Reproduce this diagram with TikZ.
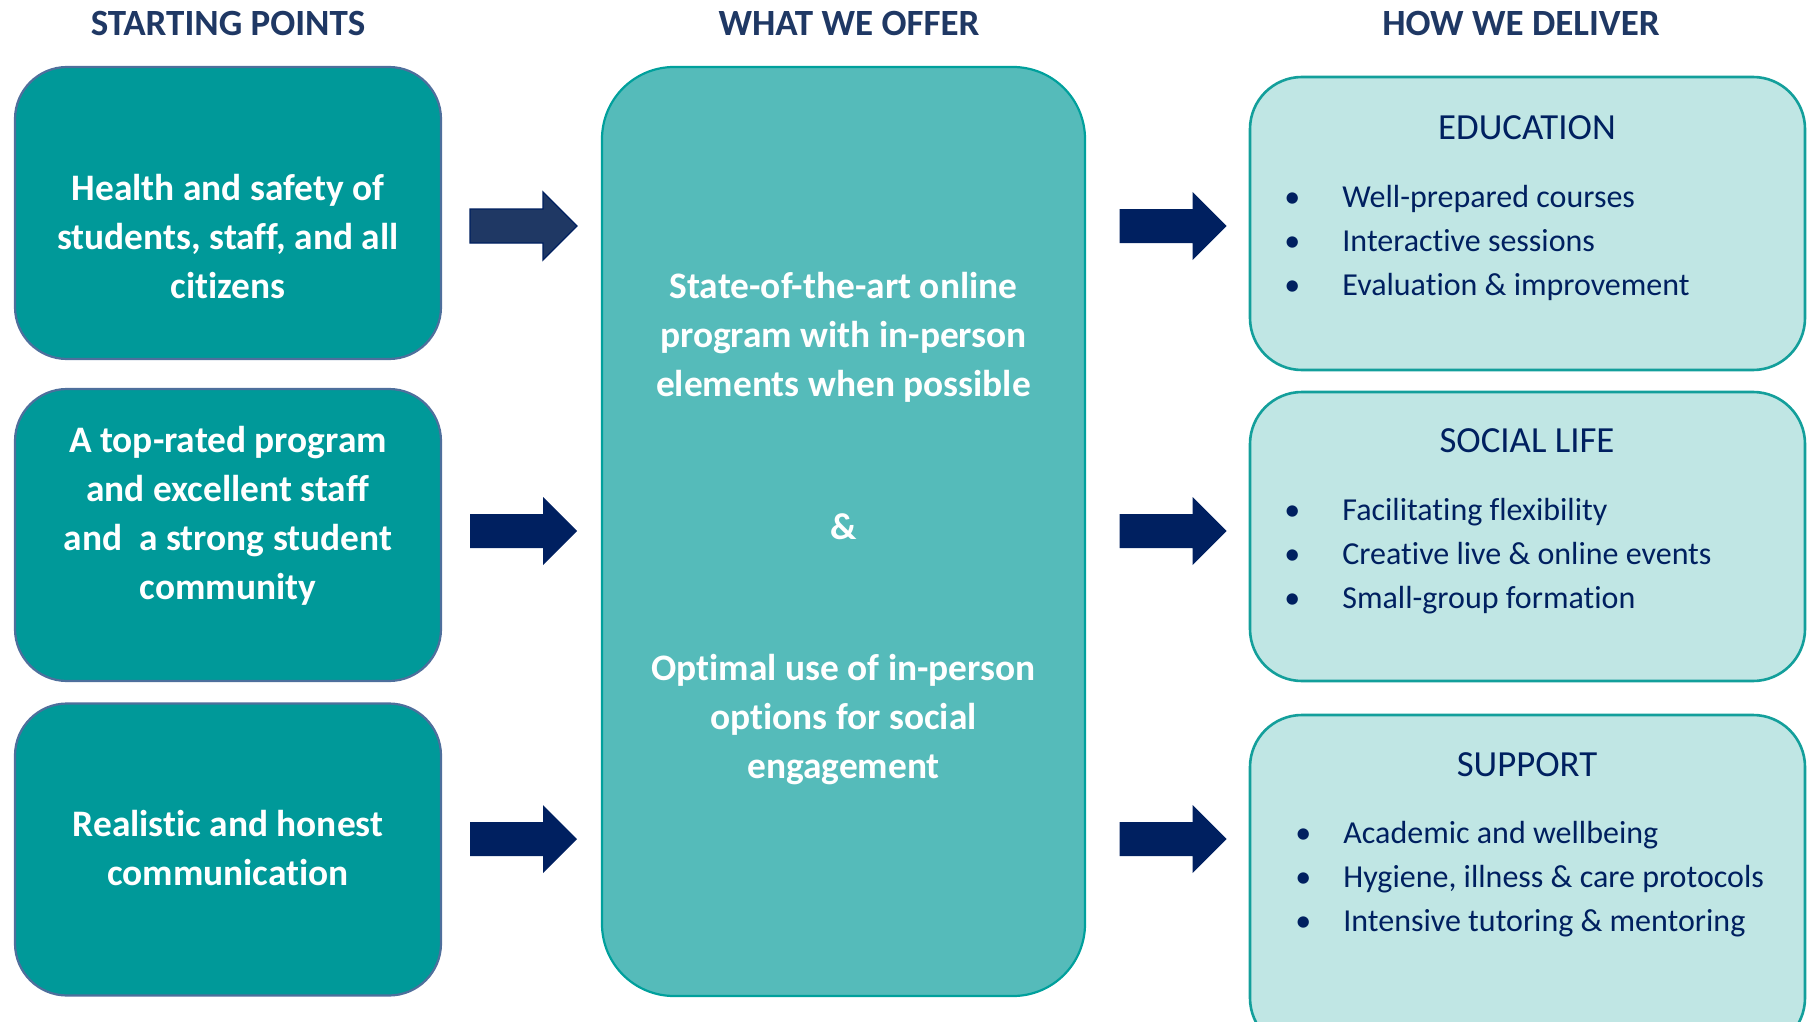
\documentclass[tikz,border=0pt]{standalone}
\usepackage{fontspec}
\setmainfont[Ligatures=NoCommon]{Carlito}
\definecolor{navy}{HTML}{1F3864}
\definecolor{navyb}{HTML}{002060}
\definecolor{tealA}{HTML}{009999}
\definecolor{tealB}{HTML}{4E6F9C}
\definecolor{midF}{HTML}{55BBBA}
\definecolor{midB}{HTML}{00A09C}
\definecolor{ltF}{HTML}{C0E6E4}
\definecolor{ltB}{HTML}{139F9B}
\tikzset{
  hdr/.style={font=\fontsize{18.5}{22}\selectfont\bfseries, text=navy, inner sep=0pt},
  startbox/.style={draw=tealB, line width=1.1pt, fill=tealA, rounded corners=26pt,
    minimum width=213pt, minimum height=146pt, inner sep=0pt},
  offerbox/.style={draw=midB, line width=1.1pt, fill=midF, rounded corners=36pt,
    minimum width=241.5pt, minimum height=464.5pt, inner sep=0pt},
  deliverbox/.style={draw=ltB, line width=1.3pt, fill=ltF, rounded corners=26pt,
    minimum width=277.5pt, inner sep=0pt},
  wtext/.style={font=\fontsize{18.7}{24.5}\selectfont\bfseries, text=white, align=center, inner sep=0pt},
  dtitle/.style={font=\fontsize{18.4}{22}\selectfont, text=navyb, inner sep=0pt},
  dlist/.style={font=\fontsize{16}{22}\selectfont, text=navyb, align=left, inner sep=0pt, anchor=west},
  barrow/.pic={\path[pic actions] (-53.5,-17) -- (19.5,-17) -- (19.5,-34) -- (53.5,0)
     -- (19.5,34) -- (19.5,17) -- (-53.5,17) -- cycle;},
  arrowfill/.style={fill=navyb}
}
\begin{document}
\begin{tikzpicture}[x=0.5pt,y=-0.5pt]
\useasboundingbox (0,0) rectangle (1811,1022);
\clip (0,0) rectangle (1811,1022);
% headers
\node[hdr] (h1) at (228,23) {STARTING POINTS};
\node[hdr] (h2) at (849,23) {WHAT WE OFFER};
\node[hdr] (h3) at (1521,23) {HOW WE DELIVER};
% starting boxes
\node[startbox] (s1) at (228,213) {};
\node[startbox] (s2) at (228,535) {};
\node[startbox] (s3) at (228,849.5) {};
\node[wtext] (t1) at (228,237) {Health and safety of\\students, staff, and all\\citizens};
\node[wtext] (t2) at (228,516) {A top-rated program\\and excellent staff\\and\ \ a strong student\\community};
\node[wtext] (t3) at (228,848) {Realistic and honest\\communication};
% offer box
\node[offerbox] (o) at (843.5,531.5) {};
\node[wtext] (o1) at (843.5,337.5) {State-of-the-art online\\program with in-person\\elements when possible};
\node[wtext] (o2) at (843.5,527) {\&};
\node[wtext] (o3) at (843.5,719.5) {Optimal use of in-person\\options for social\\engagement};
% deliver boxes
\node[deliverbox, minimum height=146.5pt] (d1) at (1527.5,223.5) {};
\node[deliverbox, minimum height=144.5pt] (d2) at (1527.5,536.5) {};
\node[deliverbox, minimum height=167.5pt] (d3) at (1527.5,882.5) {};
\node[dtitle] (e0) at (1527,128) {EDUCATION};
\node[dlist] (e1) at (1242,242.5) {\makebox[50pt][c]{•}Well-prepared courses\\\makebox[50pt][c]{•}Interactive sessions\\\makebox[50pt][c]{•}Evaluation \& improvement};
\node[dtitle] (l0) at (1527,441) {SOCIAL LIFE};
\node[dlist] (l1) at (1242,556) {\makebox[50pt][c]{•}Facilitating flexibility\\\makebox[50pt][c]{•}Creative live \& online events\\\makebox[50pt][c]{•}Small-group formation};
\node[dtitle] (p0) at (1527,765) {SUPPORT};
\node[dlist] (p1) at (1263,879.5) {\makebox[40pt][c]{•}Academic and wellbeing\\\makebox[40pt][c]{•}Hygiene, illness \& care protocols\\\makebox[40pt][c]{•}Intensive tutoring \& mentoring};
% arrows
\coordinate (a1) at (523.5,226);
\coordinate (a2) at (523.5,531);
\coordinate (a3) at (523.5,839);
\coordinate (b1) at (1173,226);
\coordinate (b2) at (1173,531);
\coordinate (b3) at (1173,839);
\pic[fill=navy, draw=navyb, line width=0.7pt] at (a1) {barrow};
\pic[arrowfill] at (a2) {barrow};
\pic[arrowfill] at (a3) {barrow};
\pic[arrowfill] at (b1) {barrow};
\pic[arrowfill] at (b2) {barrow};
\pic[arrowfill] at (b3) {barrow};
\end{tikzpicture}
\end{document}
